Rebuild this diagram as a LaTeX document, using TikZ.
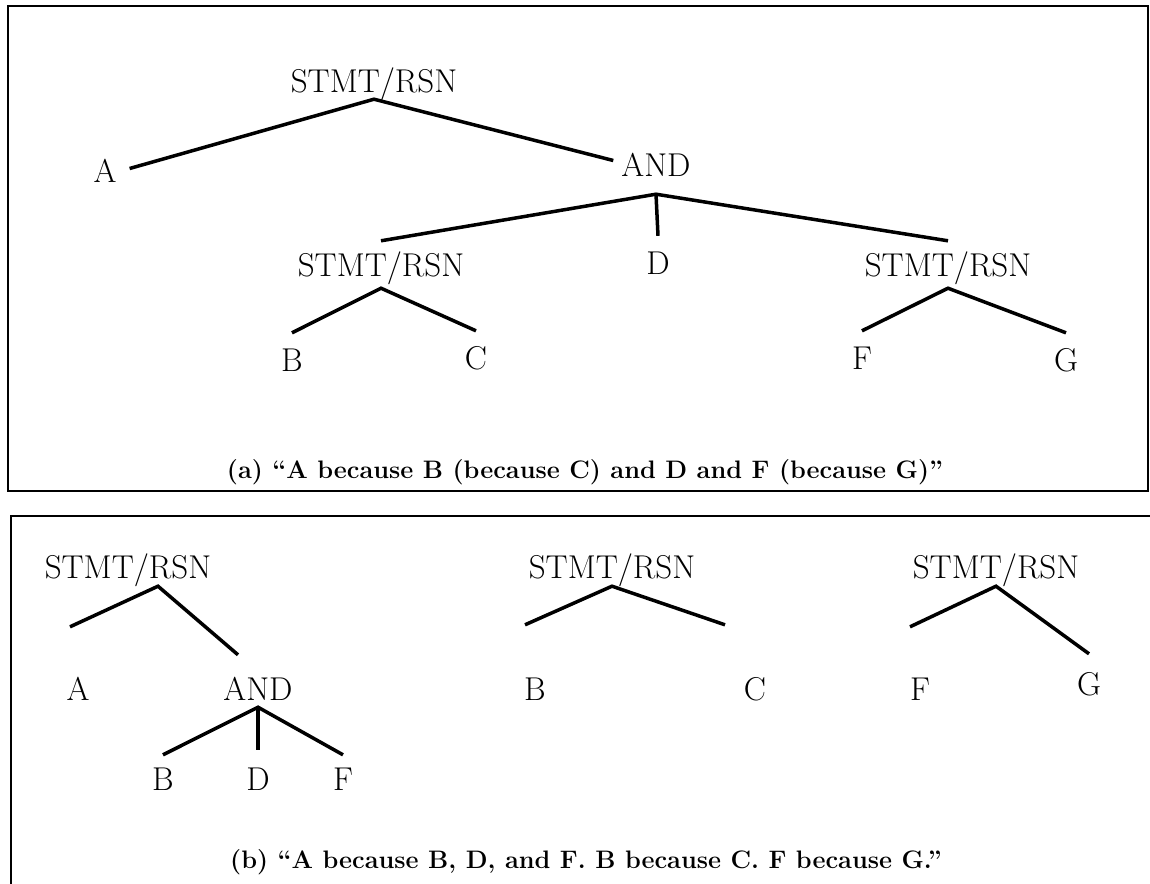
\documentclass[tikz,border=0pt]{standalone}
\begin{document}
\begin{tikzpicture}[x=1pt,y=-1pt,
  lbl/.style={font=\fontsize{33}{36}\selectfont, inner sep=0pt, anchor=base, text height=23pt, text depth=0pt},
  captxt/.style={font=\fontsize{25.3}{30}\selectfont\bfseries, inner sep=0pt, anchor=base},
  edge/.style={line width=3.5pt},
  frame/.style={line width=2.5pt}]
\useasboundingbox (0,0) rectangle (1150,883);
% frames
\draw[frame] (8,6) rectangle (1148,491);
\draw[frame] (1150,516) -- (11,516) -- (11,885);
% ---- (a) ----
\node[lbl] (s1) at (374,92) {STMT/RSN};
\node[lbl] (a1) at (105,182) {A};
\node[lbl] (and1) at (656,176) {AND};
\node[lbl] (s2) at (381,276) {STMT/RSN};
\node[lbl] (d1) at (658,274) {D};
\node[lbl] (s3) at (948,276) {STMT/RSN};
\node[lbl] (f1) at (862,369) {F};
\node[lbl] (b1) at (292,371) {B};
\node[lbl] (c1) at (476,369) {C};
\node[lbl] (g1) at (1066,371) {G};
\draw[edge] ([xshift=13pt,yshift=2pt]a1.east) -- ([yshift=-7pt]s1.south) -- ([xshift=-8pt,yshift=4pt]and1.west);
\draw[edge] ([yshift=12pt]s2.north) -- ([yshift=-18pt]and1.south) -- ([yshift=12pt]s3.north);
\draw[edge] ([yshift=-18pt]and1.south) -- ([yshift=15pt]d1.north);
\draw[edge] ([yshift=15pt]b1.north) -- ([yshift=-12pt]s2.south) -- ([yshift=15pt]c1.north);
\draw[edge] ([yshift=15pt]f1.north) -- ([yshift=-12pt]s3.south) -- ([yshift=15pt]g1.north);
\node[captxt] (capa) at (585,478) {(a) ``A because B (because C) and D and F (because G)''};
% ---- (b) ----
\node[lbl] (t1) at (128,578) {STMT/RSN};
\node[lbl] (a2) at (78,700) {A};
\node[lbl] (and2) at (258,700) {AND};
\node[lbl] (b2) at (163,790) {B};
\node[lbl] (d2) at (258,790) {D};
\node[lbl] (f2) at (343,790) {F};
\draw[edge] ([xshift=-8pt,yshift=50pt]a2.north) -- ([xshift=30pt,yshift=-8pt]t1.south) -- ([xshift=-20pt,yshift=22pt]and2.north);
\draw[edge] ([yshift=12pt]b2.north) -- ([yshift=-7pt]and2.south) -- ([yshift=12pt]f2.north);
\draw[edge] ([yshift=-7pt]and2.south) -- ([yshift=17pt]d2.north);
\node[lbl] (t2) at (612,578) {STMT/RSN};
\node[lbl] (b3) at (535,700) {B};
\node[lbl] (c3) at (755,700) {C};
\draw[edge] ([xshift=-10pt,yshift=52pt]b3.north) -- ([yshift=-8pt]t2.south) -- ([xshift=-30pt,yshift=52pt]c3.north);
\node[lbl] (t3) at (996,578) {STMT/RSN};
\node[lbl] (f3) at (920,700) {F};
\node[lbl] (g3) at (1089,695) {G};
\draw[edge] ([xshift=-10pt,yshift=50pt]f3.north) -- ([yshift=-8pt]t3.south) -- ([yshift=18pt]g3.north);
\node[captxt] (capb) at (586,868) {(b) ``A because B, D, and F. B because C. F because G.''};
\end{tikzpicture}
\end{document}
